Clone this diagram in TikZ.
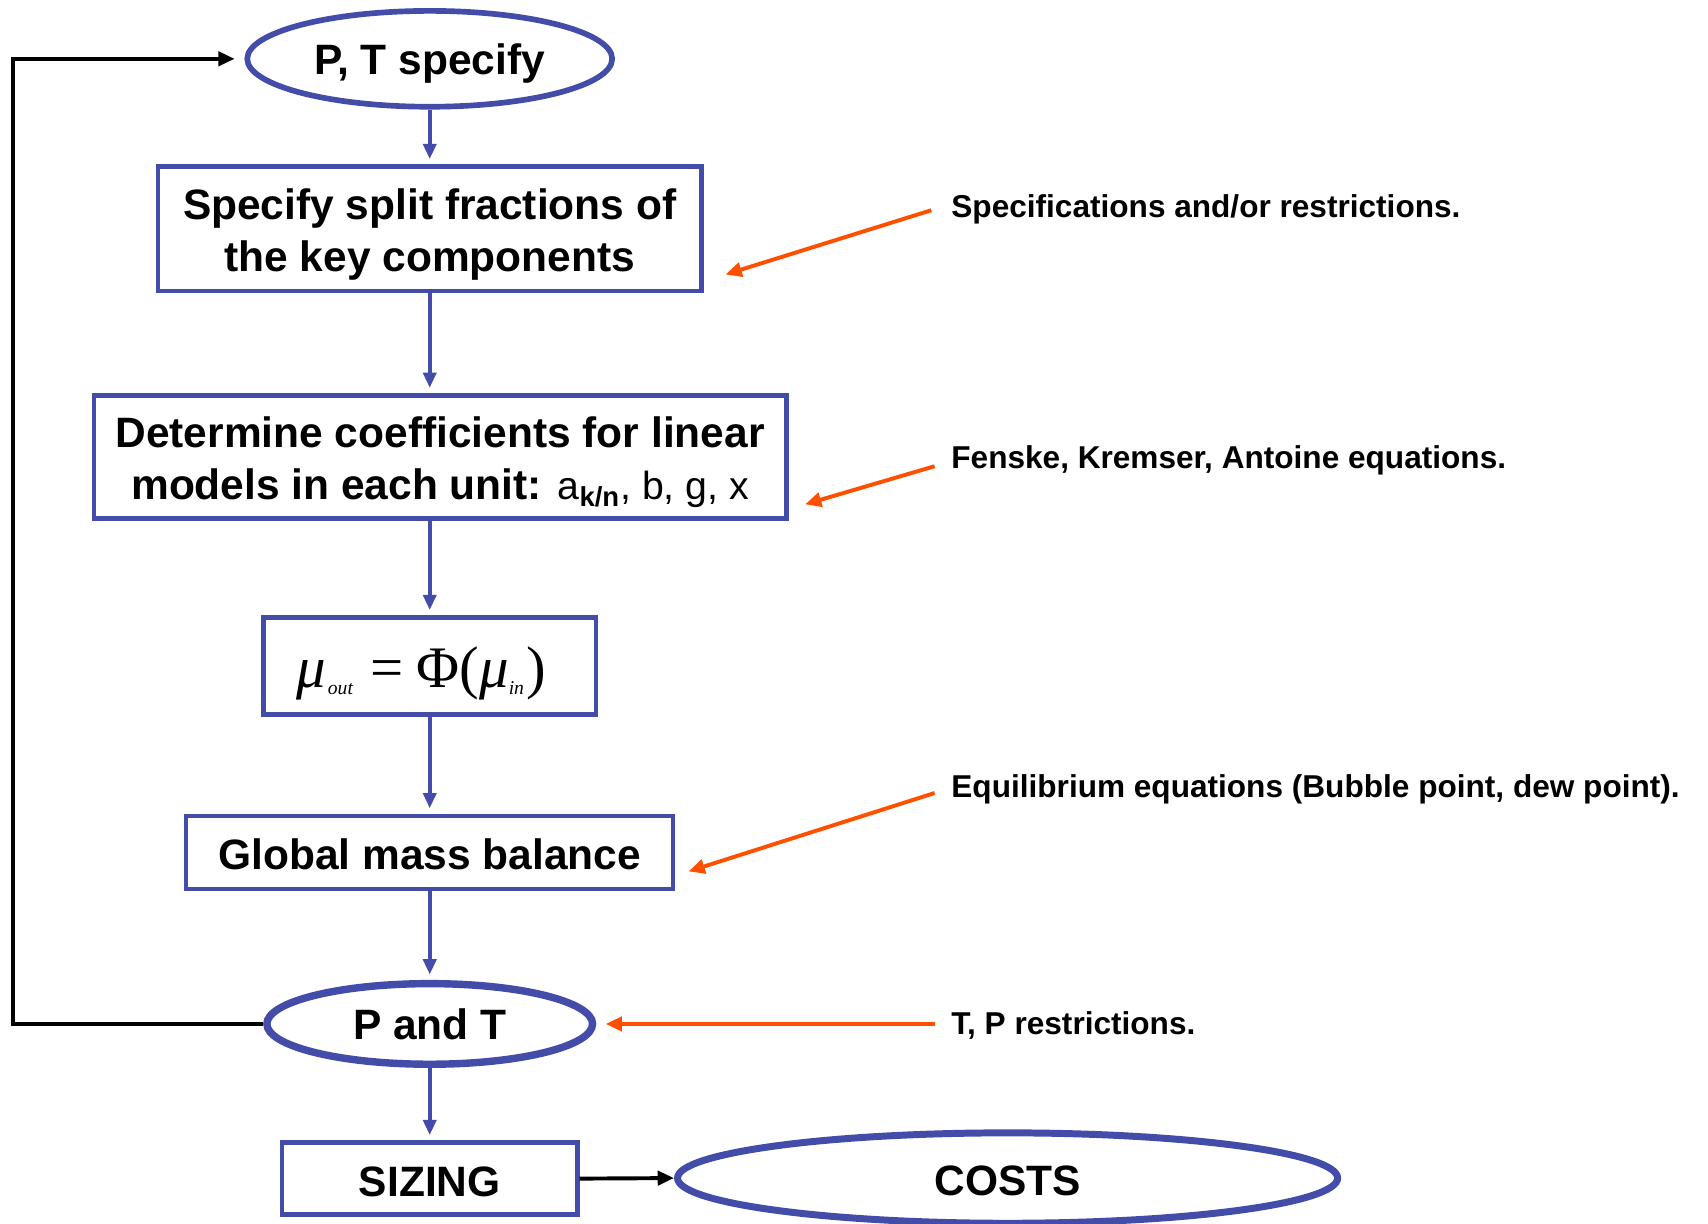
\documentclass[tikz,border=0pt]{standalone}
\usepackage{fontspec}
\setmainfont{Liberation Sans}
\newfontfamily\tnr{Liberation Serif}
\usetikzlibrary{arrows.meta,shapes.geometric}
\definecolor{boxblue}{RGB}{68,76,170}
\definecolor{annred}{RGB}{255,80,0}
\newcommand\dn[2]{\raisebox{-#1}[\height][\depth]{#2}}
\newcommand\twol[2]{\begin{tabular}{@{}c@{}}#1\\#2\end{tabular}}
\begin{document}
\begin{tikzpicture}[x=0.5pt,y=-0.5pt,
  mainfont/.style={font=\bfseries\fontsize{19.5}{24}\selectfont},
  box/.style={draw=boxblue,line width=2pt,rectangle,inner sep=0pt,align=center,mainfont},
  oval/.style={draw=boxblue,line width=2.6pt,ellipse,inner sep=0pt,mainfont},
  flow/.style={draw=boxblue,line width=1.7pt,-{Triangle[length=7pt,width=6pt]},shorten >=2.5pt},
  ann/.style={anchor=west,inner sep=0pt,font=\bfseries\fontsize{14.5}{17}\selectfont},
  annarrow/.style={draw=annred,line width=1.8pt,-{Triangle[length=7.5pt,width=6.5pt]}},
  blk/.style={draw=black,line width=1.8pt,-{Triangle[length=7.5pt,width=6.5pt]}}]
\useasboundingbox (0,0) rectangle (1568,1123);
\fill[white] (0,0) rectangle (1568,1123);

% nodes
\node[oval,minimum width=167.5pt,minimum height=44pt] (e1) at (394.5,54) {\dn{2pt}{P, T specify}};
\node[box,minimum width=249.5pt,minimum height=57pt] (b2) at (394.5,210)
  {\dn{2.75pt}{\twol{Specify split fractions of}{the key components}}};
\node[box,minimum width=318pt,minimum height=56.5pt] (b3) at (404,419.5)
  {\dn{2.75pt}{\twol{Determine coefficients for linear}{models in each unit: {\mdseries\fontsize{18}{22}\selectfont a\textsubscript{\bfseries k/n}, b, g, x}}}};
\node[box,minimum width=152.5pt,minimum height=44.5pt] (b4) at (394.5,611.5)
  {\dn{3.5pt}{\tnr\mdseries\fontsize{27}{30}\selectfont\itshape μ\kern1pt\raisebox{-3pt}[0pt][0pt]{\fontsize{9}{10}\selectfont out}\hspace{8pt}\upshape=\hspace{6pt}Φ(\itshape μ\raisebox{-3pt}[0pt][0pt]{\fontsize{9}{10}\selectfont in}\hspace{1pt}\upshape)\hspace{8pt}}};
\node[box,minimum width=223.5pt,minimum height=33.5pt] (b5) at (394.5,782.5) {\dn{1pt}{Global mass balance}};
\node[oval,line width=3.4pt,minimum width=149.5pt,minimum height=37pt] (e6) at (394.5,940) {P and T};
\node[box,minimum width=135.5pt,minimum height=33pt] (b7) at (394.5,1082) {\dn{1.5pt}{SIZING}};
\node[oval,line width=3.2pt,minimum width=303pt,minimum height=41.5pt] (e8) at (925,1081.5) {\dn{1.5pt}{COSTS}};

% annotations
\node[ann] (a1) at (873,192) {Specifications and/or restrictions.};
\node[ann] (a2) at (873,423) {Fenske, Kremser, Antoine equations.};
\node[ann] (a3) at (873,725) {Equilibrium equations (Bubble point, dew point).};
\node[ann] (a4) at (873,941) {T, P restrictions.};

\coordinate (t1) at (666,252);
\coordinate (t2) at (739,463);
\coordinate (t3) at (632,800);
\coordinate (t4) at (556,940);
\coordinate (fb) at (12,940);

% main flow
\draw[flow] (e1) -- (b2);
\draw[flow] (b2) -- (b2 |- b3.north);
\draw[flow] (b3.south -| b2) -- (b4);
\draw[flow] (b4) -- (b5);
\draw[flow] (b5) -- (e6);
\draw[flow] (e6) -- (b7);
\draw[blk] (b7.east) -- (e8.west);
\draw[blk,shorten >=4.5pt] (e6.west) -- (fb) |- (e1.west);

% annotation arrows
\draw[annarrow] ([xshift=-9pt,yshift=-0.5pt]a1.west) -- (t1);
\draw[annarrow] ([xshift=-7.5pt,yshift=-2.5pt]a2.west) -- (t2);
\draw[annarrow] ([xshift=-7.5pt,yshift=-1.5pt]a3.west) -- (t3);
\draw[annarrow] ([xshift=-7.5pt,yshift=0.5pt]a4.west) -- (t4);
\end{tikzpicture}
\end{document}
